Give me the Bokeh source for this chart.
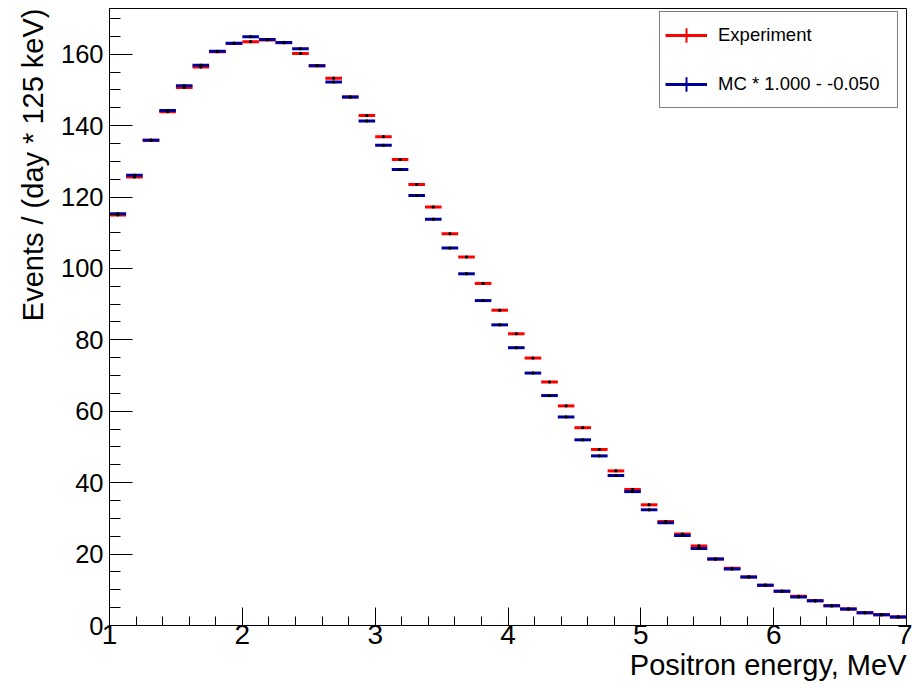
import numpy as np
from bokeh.plotting import figure
from bokeh.models import (Range1d, SingleIntervalTicker, Legend, LegendItem,
                          ColumnDataSource, Title)
from bokeh.embed import file_html
from bokeh.resources import INLINE

# ---------------- data ----------------
bin_start = 1.0          # MeV, lower edge of the first bin
bin_width = 0.125        # MeV
experiment = [115.0, 125.6, 135.9, 143.9, 150.7, 156.4, 160.7, 163.0, 163.5, 164.0,
              163.2, 160.2, 156.8, 153.3, 148.0, 142.8, 136.9, 130.5, 123.5, 117.2,
              109.7, 103.2, 95.8, 88.3, 81.7, 74.9, 68.2, 61.5, 55.4, 49.3,
              43.3, 38.1, 33.8, 29.1, 25.6, 22.3, 18.6, 16.0, 13.6, 11.3,
              9.6, 8.2, 6.9, 5.5, 4.6, 3.6, 3.0, 2.4]
mc = [115.3, 126.1, 135.9, 144.2, 151.2, 156.9, 160.8, 163.1, 164.9, 164.1,
      163.3, 161.5, 156.8, 152.2, 148.0, 141.3, 134.5, 127.7, 120.4, 113.8,
      105.7, 98.5, 91.0, 84.2, 77.8, 70.7, 64.4, 58.4, 52.0, 47.5,
      42.0, 37.5, 32.4, 28.8, 25.2, 21.6, 18.6, 15.8, 13.6, 11.3,
      9.6, 8.0, 6.9, 5.5, 4.6, 3.55, 3.0, 2.4]
legend_labels = ["Experiment", "MC * 1.000 - -0.050"]
x_title = "Positron energy, MeV"
y_title = "Events / (day * 125 keV)"
x_limits = (1, 7)
y_limits = (0, 172.8)

n = len(experiment)
left = bin_start + bin_width * np.arange(n)
right = left + bin_width
center = left + bin_width / 2

src_e = ColumnDataSource(dict(x0=left, x1=right, xc=center, y=experiment))
src_m = ColumnDataSource(dict(x0=left, x1=right, xc=center, y=mc))

RED = "#ff0000"
BLUE = "#000099"
FONT = "Liberation Sans"

p = figure(width=912, height=688, output_backend="svg", toolbar_location=None,
           x_range=Range1d(*x_limits), y_range=Range1d(*y_limits),
           min_border_left=109, min_border_right=6, min_border_top=8,
           min_border_bottom=63)
p.xgrid.visible = False
p.ygrid.visible = False
p.outline_line_color = "black"
p.outline_line_width = 1
p.background_fill_color = "white"
p.border_fill_color = "white"

# histogram bars (horizontal bin segments) with central points
r_e = p.segment("x0", "y", "x1", "y", source=src_e, line_color=RED, line_width=3)
p.scatter("xc", "y", source=src_e, marker="square", size=2, color="black")
r_m = p.segment("x0", "y", "x1", "y", source=src_m, line_color=BLUE, line_width=3)
p.scatter("xc", "y", source=src_m, marker="square", size=2, color="black")

# legend-only vertical parts of the crosses
v_e = p.scatter("xc", "y", source=src_e, marker="cross", line_color=RED,
                line_width=2, size=10, visible=False)
v_m = p.scatter("xc", "y", source=src_m, marker="cross", line_color=BLUE,
                line_width=2, size=10, visible=False)

legend = Legend(items=[LegendItem(label=legend_labels[0], renderers=[r_e, v_e]),
                       LegendItem(label=legend_labels[1], renderers=[r_m, v_m])],
                location=(550, 517), glyph_width=42, glyph_height=36,
                label_standoff=11, label_width=174, label_height=36,
                padding=5, spacing=13, margin=0,
                label_text_font=FONT, label_text_font_size="18.5px",
                label_text_color="black",
                border_line_color="black", border_line_width=1,
                background_fill_color="white", background_fill_alpha=1.0)
p.add_layout(legend)

# axes
p.xaxis.ticker = SingleIntervalTicker(interval=1, num_minor_ticks=5)
p.yaxis.ticker = SingleIntervalTicker(interval=20, num_minor_ticks=4)

for ax in (p.xaxis[0], p.yaxis[0]):
    ax.axis_line_color = "black"
    ax.major_tick_line_color = "black"
    ax.minor_tick_line_color = "black"
    ax.major_tick_out = 0
    ax.minor_tick_out = 0
    ax.major_label_text_font = FONT
    ax.major_label_text_color = "black"

p.xaxis.major_tick_in = 18
p.xaxis.minor_tick_in = 9
p.yaxis.major_tick_in = 23
p.yaxis.minor_tick_in = 11

p.xaxis.major_label_text_font_size = "28px"
p.yaxis.major_label_text_font_size = "25.5px"
p.xaxis.major_label_standoff = -1
p.yaxis.major_label_standoff = 6

# axis titles, right/top aligned as in ROOT
p.add_layout(Title(text=x_title, align="right", standoff=0, offset=0,
                   text_font=FONT, text_font_size="29px",
                   text_font_style="normal", text_color="black"), "below")
p.add_layout(Title(text=y_title, align="right", standoff=17, offset=0,
                   text_font=FONT, text_font_size="29px",
                   text_font_style="normal", text_color="black"), "left")

open("out.html", "w").write(file_html(p, INLINE))
